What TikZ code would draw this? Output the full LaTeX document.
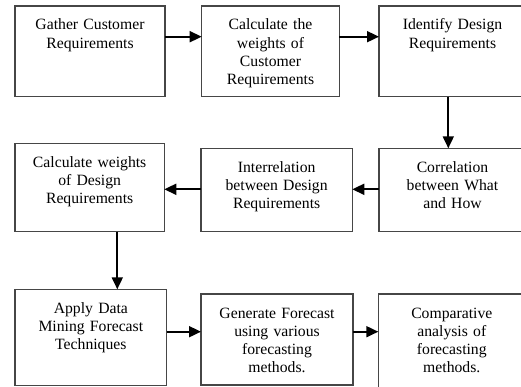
\documentclass[tikz,border=0pt]{standalone}
\usepackage{fontspec}
\setmainfont{Liberation Serif}
\usetikzlibrary{arrows.meta}
\usetikzlibrary{positioning}
\definecolor{boxgray}{RGB}{70,70,70}

\begin{document}
\begin{tikzpicture}[x=1pt, y=1pt,
      stage/.style={draw=boxgray, line width=1.1pt, inner sep=0pt, outer sep=0pt,
        align=center, text height=24pt, font=\fontsize{15.7pt}{18.2pt}\selectfont},
      flow/.style={-{Triangle[length=12pt,width=11pt]}, line width=1.8pt}]

      \useasboundingbox (0,0) rectangle (521,-387);
      \clip (0,0) rectangle (521,-387);

      % top row
      \node[stage, text width=150pt, text depth=66.7pt, anchor=north west] (gather) at (15,-6)
            {Gather Customer\\Requirements};
      \node[stage, text width=137.6pt, text depth=66.7pt, right=36.7pt of gather.north east, anchor=north west] (custw)
            {Calculate the\\weights of\\Customer\\Requirements};
      \node[stage, text width=147pt, text depth=66.7pt, right=39.7pt of custw.north east, anchor=north west] (ident)
            {Identify Design\\Requirements};

      % middle row, right to left
      \node[stage, text width=147pt, text depth=59.4pt, below=51.6pt of ident.south west, anchor=north west] (corr)
            {Correlation\\between What\\and How};
      \node[stage, text width=151.3pt, text depth=59.4pt, left=26.7pt of corr.north west, anchor=north east] (inter)
            {Interrelation\\between Design\\Requirements};
      \node[stage, text width=149.3pt, text depth=64.4pt, left=36.7pt of inter.south west, anchor=south east] (designw)
            {Calculate weights\\of Design\\Requirements};

      % bottom row
      \node[stage, text width=151.7pt, text depth=72.4pt, below=57.6pt of designw.south west, anchor=north west] (mining)
            {Apply Data\\Mining Forecast\\Techniques};
      \node[stage, text width=152pt, text depth=67pt, right=34.3pt of mining.north east, anchor=north west, yshift=-4.7pt] (forecast)
            {Generate Forecast\\using various\\forecasting\\methods.};
      \node[stage, text width=147pt, text depth=72pt, right=25.3pt of forecast.north east, anchor=north west] (compare)
            {Comparative\\analysis of\\forecasting\\methods.};

      \path[flow] ([yshift=-30.7pt]gather.north east)  edge ([yshift=-30.7pt]custw.north west)
                  ([yshift=-30.7pt]custw.north east)   edge ([yshift=-30.7pt]ident.north west)
                  ([xshift=69.3pt]ident.south west)    edge ([xshift=69.3pt]corr.north west)
                  ([yshift=-41pt]corr.north west)      edge ([yshift=-41pt]inter.north east)
                  ([yshift=-41pt]inter.north west)     edge ([yshift=-46pt]designw.north east)
                  ([xshift=102.3pt]designw.south west) edge ([xshift=102.3pt]mining.north west)
                  ([yshift=-42.4pt]mining.north east)  edge ([yshift=-37.7pt]forecast.north west)
                  ([yshift=-37.7pt]forecast.north east) edge ([yshift=-37.7pt]compare.north west);
\end{tikzpicture}
\end{document}
